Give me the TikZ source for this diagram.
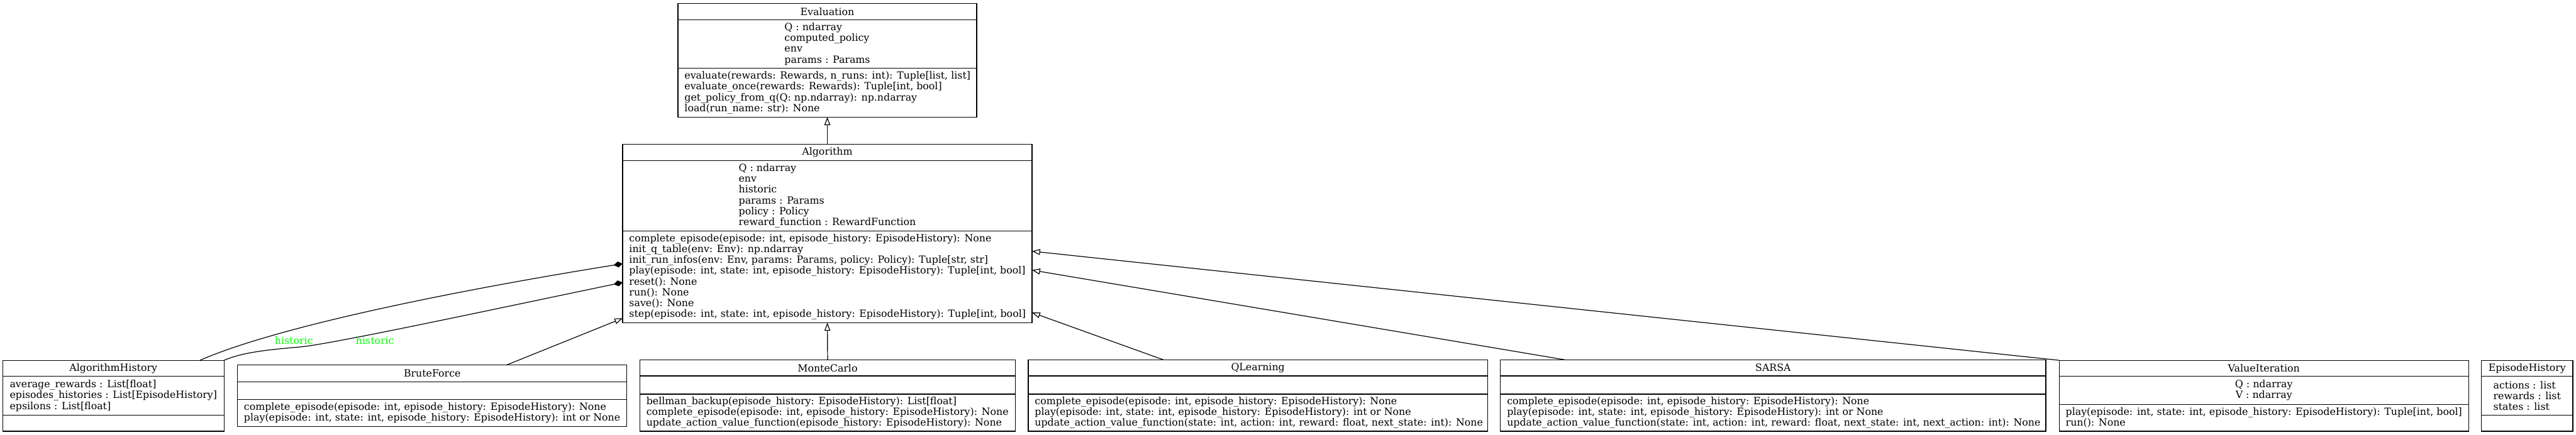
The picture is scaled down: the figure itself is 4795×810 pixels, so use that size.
\documentclass[tikz,border=0pt]{standalone}
\usepackage{fontspec}
\setmainfont{DejaVu Serif}
\usetikzlibrary{arrows.meta,calc}
\definecolor{lblgreen}{RGB}{0,255,0}
\newcommand{\fs}{\fontsize{18.5}{20}\selectfont}
\tikzset{
  classbox/.style={draw=black, line width=1.4pt, inner sep=0pt, outer sep=0pt, rectangle},
  divline/.style={draw=black, line width=1.4pt},
  ttext/.style={inner sep=0pt, font=\fs},
  atext/.style={inner sep=0pt, font=\fs, align=left},
  mtext/.style={inner sep=0pt, font=\fs, align=left, anchor=west},
  inh/.style={draw=black, line width=1.4pt, -{Triangle[open,length=15pt,width=11pt]}},
  comp/.style={draw=black, line width=1.4pt, -{Diamond[length=17pt,width=11pt]}},
  lbl/.style={inner sep=0pt, font=\fs, text=lblgreen},
}
% name, x1, y1, x2, y2, title divider y, attribute divider y
\newcommand{\umlbox}[7]{%
  \node[classbox, minimum width={(#4)-(#2)}, minimum height={(#5)-(#3)}] (#1) at ({((#2)+(#4))/2},{((#3)+(#5))/2}) {};
  \draw[divline] (#2,#6) -- (#4,#6);
  \draw[divline] (#2,#7) -- (#4,#7);
}
\begin{document}
\begin{tikzpicture}[x=1pt, y=-1pt]
\useasboundingbox (0,0) rectangle (4795,810);

% Evaluation
\umlbox{eval}{1262}{6}{1818}{218}{37}{127}
\node[ttext] (eval-t) at (1540,21.5) {Evaluation};
\node[atext] (eval-a) at (1540,82) {Q : ndarray\\computed\_policy\\env\\params : Params};
\node[mtext] (eval-m) at (1274,172.5) {evaluate(rewards: Rewards, n\_runs: int): Tuple[list, list]\\evaluate\_once(rewards: Rewards): Tuple[int, bool]\\get\_policy\_from\_q(Q: np.ndarray): np.ndarray\\load(run\_name: str): None};

% Algorithm
\umlbox{alg}{1159}{269}{1921}{601}{299}{430}
\node[ttext] (alg-t) at (1540,284) {Algorithm};
\node[atext] (alg-a) at (1540,364.5) {Q : ndarray\\env\\historic\\params : Params\\policy : Policy\\reward\_function : RewardFunction};
\node[mtext] (alg-m) at (1171,515.5) {complete\_episode(episode: int, episode\_history: EpisodeHistory): None\\init\_q\_table(env: Env): np.ndarray\\init\_run\_infos(env: Env, params: Params, policy: Policy): Tuple[str, str]\\play(episode: int, state: int, episode\_history: EpisodeHistory): Tuple[int, bool]\\reset(): None\\run(): None\\save(): None\\step(episode: int, state: int, episode\_history: EpisodeHistory): Tuple[int, bool]};

% AlgorithmHistory
\umlbox{ah}{5}{671}{417}{803}{701}{773}
\node[ttext] (ah-t) at (211,686) {AlgorithmHistory};
\node[atext] (ah-a) at (211,737) {average\_rewards : List[float]\\episodes\_histories : List[EpisodeHistory]\\epsilons : List[float]};

% BruteForce
\umlbox{bf}{442}{680}{1167}{794}{711}{744}
\node[ttext] (bf-t) at (804.5,695.5) {BruteForce};
\node[mtext] (bf-m) at (454,769) {complete\_episode(episode: int, episode\_history: EpisodeHistory): None\\play(episode: int, state: int, episode\_history: EpisodeHistory): int or None};

% MonteCarlo
\umlbox{mc}{1191}{670}{1890}{803}{700}{734}
\node[ttext] (mc-t) at (1540.5,685) {MonteCarlo};
\node[mtext] (mc-m) at (1203,768.5) {bellman\_backup(episode\_history: EpisodeHistory): List[float]\\complete\_episode(episode: int, episode\_history: EpisodeHistory): None\\update\_action\_value\_function(episode\_history: EpisodeHistory): None};

% QLearning
\umlbox{ql}{1914}{670}{2769}{803}{700}{734}
\node[ttext] (ql-t) at (2341.5,685) {QLearning};
\node[mtext] (ql-m) at (1926,768.5) {complete\_episode(episode: int, episode\_history: EpisodeHistory): None\\play(episode: int, state: int, episode\_history: EpisodeHistory): int or None\\update\_action\_value\_function(state: int, action: int, reward: float, next\_state: int): None};

% SARSA
\umlbox{sa}{2793}{670}{3808}{803}{700}{734}
\node[ttext] (sa-t) at (3300.5,685) {SARSA};
\node[mtext] (sa-m) at (2805,768.5) {complete\_episode(episode: int, episode\_history: EpisodeHistory): None\\play(episode: int, state: int, episode\_history: EpisodeHistory): int or None\\update\_action\_value\_function(state: int, action: int, reward: float, next\_state: int, next\_action: int): None};

% ValueIteration
\umlbox{vi}{3833}{671}{4595}{803}{701}{753}
\node[ttext] (vi-t) at (4214,686) {ValueIteration};
\node[atext, align=center] (vi-a) at (4214,727) {Q : ndarray\\V : ndarray};
\node[mtext] (vi-m) at (3845,778) {play(episode: int, state: int, episode\_history: EpisodeHistory): Tuple[int, bool]\\run(): None};

% EpisodeHistory
\umlbox{eh}{4619}{671}{4789}{803}{701}{773}
\node[ttext] (eh-t) at (4704,686) {EpisodeHistory};
\node[atext] (eh-a) at (4704,737) {actions : list\\rewards : list\\states : list};

% inheritance
\draw[inh] (alg.north) -- (eval.south);
\draw[inh] (mc.north) -- (alg.south);
\draw[inh] ($(bf.north west)!0.69!(bf.north east)$) -- ($(alg.north west)!0.975!(alg.south west)$);
\draw[inh] ($(ql.north west)!0.294!(ql.north east)$) -- ($(alg.north east)!0.943!(alg.south east)$);
\draw[inh] ($(sa.north west)!0.118!(sa.north east)$) -- ($(alg.north east)!0.705!(alg.south east)$);
\draw[inh] (vi.north west) -- ($(alg.north east)!0.599!(alg.south east)$);

% composition
\draw[comp] ($(ah.north west)!0.891!(ah.north east)$) .. controls +(160,-70) and +(-250,40) .. ($(alg.north west)!0.669!(alg.south west)$);
\draw[comp] (ah.north east) .. controls +(33,-14) and +(-70,6) .. (560,646) .. controls +(60,-6) and +(-259,54) .. ($(alg.north west)!0.774!(alg.south west)$);

% labels
\node[lbl] (lab1) at (547,634) {historic};
\node[lbl] (lab2) at (698,634) {historic};
\end{tikzpicture}
\end{document}
